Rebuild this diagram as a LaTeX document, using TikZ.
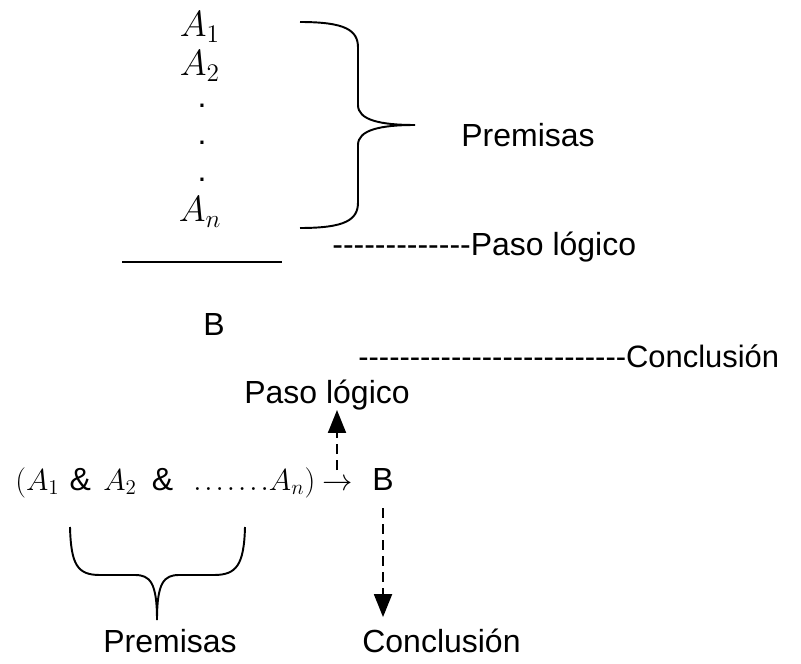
\documentclass[tikz,border=0pt]{standalone}
\usepackage{fontspec}
\setmainfont{Liberation Sans}[Ligatures=TeXOff]
\usetikzlibrary{arrows.meta}

\begin{document}
\begin{tikzpicture}[
    every node/.style={font=\fontsize{18.2}{22}\selectfont, inner sep=0pt},
    txt/.style={anchor=base west},
    mth/.style={font=\fontsize{19.5}{22}\selectfont},
    bracket/.style={line width=1.1pt},
    ptr/.style={-{Triangle[width=0.36cm,length=0.46cm]}, line width=1.1pt, dash pattern=on 0.2cm off 0.12cm}]
  \useasboundingbox (0,0) rectangle (16.02,-13.28);

  % Premises stacked
  \node[mth] (a1) at (4.0,-0.54) {$A_1$};
  \node[mth] (a2) at (4.0,-1.32) {$A_2$};
  \node (d1) at (4.04,-2.12) {.};
  \node (d2) at (4.04,-2.86) {.};
  \node (d3) at (4.04,-3.6) {.};
  \node[mth] (an) at (4.0,-4.24) {$A_n$};

  % Right brace
  \draw[bracket] (6.0,-0.44) .. controls (6.9,-0.44) and (7.16,-0.6) .. (7.16,-0.95)
    -- (7.16,-2.1) .. controls (7.16,-2.4) and (7.6,-2.5) .. (8.3,-2.5)
    .. controls (7.6,-2.5) and (7.16,-2.6) .. (7.16,-2.9)
    -- (7.16,-4.05) .. controls (7.16,-4.4) and (6.9,-4.56) .. (6.0,-4.56);
  \node (prem1) at (10.56,-2.7) {Premisas};

  % Line and conclusion
  \draw[line width=1.1pt] (2.44,-5.24) -- (5.64,-5.24);
  \node[txt] (paso1) at (6.64,-5.1) {-------------Paso lógico};
  \node[txt] (b1) at (4.06,-6.7) {B};
  \node[txt, font=\fontsize{17.6}{22}\selectfont] (conc1) at (7.16,-7.34) {--------------------------Conclusión};

  % Implication form
  \node[txt] (paso2) at (4.88,-8.06) {Paso lógico};
  \node[txt] (expr) at (0.3,-9.8) {$(A_1$\hspace{0.2cm}\&\hspace{0.25cm}$A_2$\hspace{0.3cm}\&\hspace{0.4cm}$.\kern0.06cm.\kern0.06cm.\kern0.06cm.\kern0.06cm.\kern0.06cm.\kern0.06cm.A_n)$\hspace{0.15cm}$\rightarrow$};
  \node[txt] (b2) at (7.44,-9.8) {B};
  \coordinate (up) at (6.74,-9.4);
  \draw[ptr] (up) -- (paso2.south -| up);

  % Bottom brace
  \draw[bracket] (1.4,-10.54) .. controls (1.42,-11.3) and (1.55,-11.5) .. (2.0,-11.5)
    -- (2.7,-11.5) .. controls (3.0,-11.5) and (3.14,-11.65) .. (3.14,-12.4)
    .. controls (3.14,-11.65) and (3.28,-11.5) .. (3.58,-11.5)
    -- (4.28,-11.5) .. controls (4.73,-11.5) and (4.88,-11.3) .. (4.9,-10.54);
  \node[txt] (prem2) at (2.06,-13.04) {Premisas};
  \node[txt] (conc2) at (7.24,-13.04) {Conclusión};
  \draw[ptr] ([yshift=-0.36cm]b2.south) -- ([yshift=0.22cm]b2.south |- conc2.north);
\end{tikzpicture}
\end{document}
